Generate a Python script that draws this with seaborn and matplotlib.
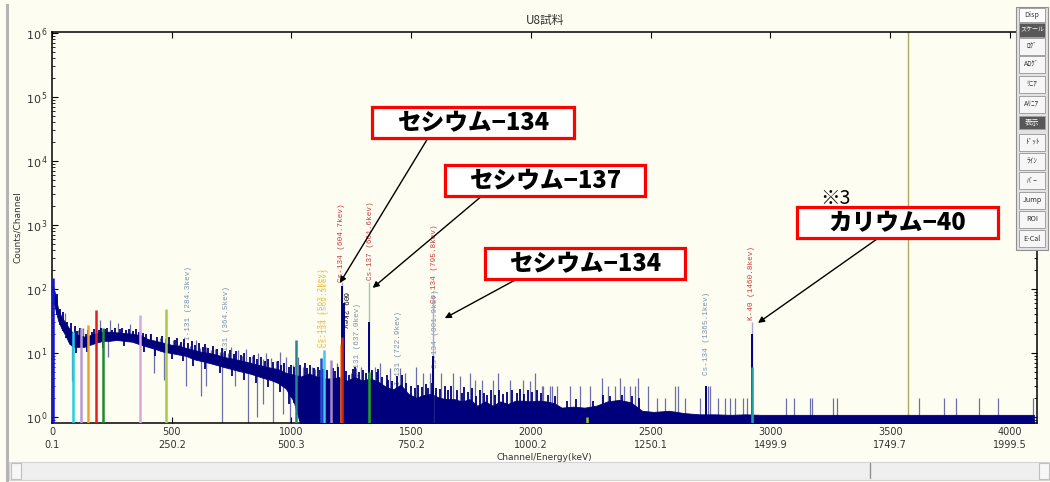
import numpy as np
import matplotlib
matplotlib.use("Agg")
import matplotlib.pyplot as plt
from matplotlib.patches import Rectangle
from matplotlib.ticker import LogLocator, NullFormatter
import seaborn as sns

W, H = 1050, 482

# spectrum body: the dense dark band (upper / lower edge in counts)
band_ch = [3, 8, 16, 26, 40, 56, 72, 90, 112, 135, 160, 185, 210, 240, 270, 300,
           335, 370, 400, 432, 464, 496, 528, 560, 592, 624, 656, 688, 720, 752,
           784, 816, 848, 880, 912, 944, 976, 1008, 1040, 1072, 1104, 1136, 1168,
           1200, 1232, 1264, 1296, 1328, 1360, 1392, 1424, 1456, 1488, 1520, 1552,
           1584, 1616, 1648, 1680, 1712, 1744, 1776, 1808, 1840, 1872, 1904, 1936,
           1968, 2000, 2032, 2064, 2096, 2128, 2176, 2224, 2272, 2320, 2368, 2416,
           2464, 2512, 2576, 2640, 2704, 2768, 2832, 2896, 2960, 3100, 3300, 3500,
           3700, 3900, 4100]
band_hi = [120, 100, 72, 48, 36, 30, 24, 20, 19, 18, 19, 20.5, 21.5, 21.5, 21, 20.5,
           20, 19, 16.5, 15.5, 14.5, 13.5, 13, 12, 11.2, 10.4, 10, 9.4, 8.6, 8.2,
           7.7, 7.2, 6.7, 6.3, 5.9, 5.6, 4.9, 4.6, 4.3, 4.8, 4.3, 4, 4,
           4.2, 3.7, 4.2, 3.7, 4, 3.6, 3, 2.7, 3.2, 2.3, 2, 2.2,
           2.3, 2, 1.9, 1.9, 1.75, 1.9, 1.5, 1.75, 1.5, 1.75, 1.6, 1.8,
           1.8, 1.75, 1.8, 1.75, 1.65, 1.4, 1.45, 1.4, 1.5, 1.75, 1.85, 1.7,
           1.25, 1.2, 1.25, 1.15, 1.1, 1.1, 1.08, 1.1, 1.08, 1.08, 1.08, 1.08,
           1.08, 1.08, 1.08]
band_lo_head = [60, 60, 45, 32, 24, 19, 14, 12.5, 12.5, 12.5, 13.5, 14.5, 15.5, 15.5, 16, 15.5,
                15, 13.5, 12.5, 11.5, 10.5, 10, 9.5, 9, 8, 7.5, 7, 6.5, 6, 5.6,
                5.2, 4.9, 4.5, 4.1, 3.8, 3.4, 2.8, 1.8]
# from ch ~1040 on the band reaches the floor of the plot
band_lo = band_lo_head + [0.7] * (len(band_ch) - len(band_lo_head))

# ragged upper edge of the band (dark single channels)
comb_ch = [20, 34, 47, 62, 78, 95, 104, 118, 140, 150, 168, 176, 195, 205, 222, 230,
           250, 262, 283, 292, 310, 320, 340, 350, 362, 380, 392, 415, 440, 458,
           478, 488, 515, 522, 538, 552, 566, 584, 596, 612, 630, 638, 652, 672,
           690, 708, 722, 742, 758, 770, 790, 800, 826, 842, 856, 872, 890, 904,
           922, 942, 958, 970, 990, 1000, 1012, 1035, 1058, 1066, 1078, 1092, 1110,
           1118, 1130, 1150, 1172, 1180, 1196, 1226, 1240, 1258, 1266, 1283, 1300,
           1312, 1336, 1355, 1362, 1380, 1398, 1405, 1420, 1440, 1462, 1480, 1500,
           1515, 1530, 1545, 1560, 1570, 1588, 1605, 1620, 1640, 1655, 1668, 1690,
           1710, 1722, 1738, 1755, 1772, 1788, 1802, 1818, 1832, 1850, 1868, 1885,
           1898, 1920, 1940, 1955, 1972, 1988, 2005, 2024, 2040, 2070, 2100, 2150,
           2190, 2260, 2300, 2330, 2380, 2420, 2450]
comb_cnt = [85, 48, 44, 30, 29, 26, 22, 25, 20, 23, 21.5, 24, 23, 25, 23.5, 25,
            23, 25, 23.5, 25, 22.5, 24, 22, 23.5, 21.5, 20.5, 19.5, 19.5, 18, 18.5,
            16.5, 18, 16, 17, 15, 16.5, 14.5, 15.5, 13.5, 14.5, 12.5, 14, 12, 13,
            11.5, 12, 10.6, 11.2, 9.8, 10.6, 9.4, 10.1, 8.7, 9.3, 8.1, 8.7, 7.6, 8.1,
            7.2, 7.6, 6.6, 7, 6, 6.4, 6, 6.4, 7, 5.8, 6.6, 5.8, 6,
            5.4, 5.6, 5.4, 5.8, 5.2, 6, 5.2, 4.6, 5.6, 6, 5, 5.4,
            4.8, 5.4, 5, 5.6, 4.2, 4.6, 3.8, 3.6, 4.4, 4.6, 3.4, 3,
            2.8, 3.2, 2.9, 3.3, 2.8, 3.4, 2.8, 2.7, 3, 2.6, 3, 2.6,
            2.4, 2.9, 2.5, 2.8, 2.1, 2.6, 2.4, 2.2, 2.6, 2.2, 2.6, 2.3,
            2.5, 2.6, 2.4, 2.7, 2.3, 2.6, 2.5, 2.6, 2.4, 2.2, 2.1, 1.8,
            1.9, 1.8, 2.2, 2.1, 2.2, 2.1, 2.0]

# ragged lower edge of the band (dark channels dipping down)
low_ch = [60, 100, 145, 215, 300, 385, 430, 500, 545, 590, 640, 700, 750, 800,
          850, 900, 950, 990]
low_cnt = [17, 10, 10.5, 12, 13, 10.5, 9, 8, 7.5, 6.2, 5.6, 4.8, 4.3, 3.8,
           3.4, 2.9, 2.5, 1.6]

# single channels sticking out above the band (faint)
spike_ch = [53, 109, 130, 199, 241, 276, 325, 408, 450, 470, 505, 530, 547, 575,
            603, 620, 645, 665, 680, 700, 714, 735, 749, 760, 777, 795, 812, 835,
            861, 880, 895, 915, 935, 951, 965, 979, 1005, 1028, 1049, 1084, 1097,
            1188, 1250, 1271, 1292, 1348, 1369, 1411, 1452, 1473, 1522, 1550, 1578,
            1626, 1675, 1703, 1745, 1766, 1794, 1842, 1863, 1912, 1967, 1995, 2016,
            2044, 2051, 2079, 2086, 2107, 2163, 2204, 2246, 2295, 2323, 2351, 2371,
            2389, 2413, 2434, 2448, 2490, 2525, 2559, 2601, 2615, 2643, 2705, 2740,
            2747, 2782, 2810, 2831, 2852, 2886, 2900, 3065, 3098, 3165, 3175, 3263,
            3277, 3622, 3725, 3775, 3872, 3949, 4095]
spike_cnt = [42, 23, 24.5, 33, 33, 29.5, 28, 20, 17, 15, 16, 14, 15, 13,
             16, 12, 12.6, 11, 11.6, 10.5, 10.4, 10, 12.6, 9.5, 11, 9, 11.6, 9,
             9.9, 8, 9.9, 8.5, 7.5, 10.4, 7, 8.8, 6.5, 8.8, 6, 6, 5.6,
             7, 4.8, 5.9, 6.1, 6.1, 7, 5.9, 5.9, 4.8, 6, 4.8, 4.8,
             4.8, 4.8, 4.3, 4.8, 3.8, 3.8, 3.8, 4.8, 3.8, 3.8, 3.6, 4.8,
             3, 3, 3, 3, 3, 3, 3, 3, 4, 3, 3, 4,
             3, 3, 3, 4, 3, 2, 2, 3, 3, 2, 2, 3,
             3, 2, 2, 2, 2, 2, 2, 2, 2, 2, 2, 2,
             2, 2, 2, 2, 2, 2, 2]

# channels dropping below the band (faint)
dip_ch = [85, 234, 425, 467, 560, 623, 645, 708, 763, 819, 854, 882, 924, 965, 993]
dip_cnt = [3.7, 8.8, 4.8, 3.8, 3, 2.1, 3, 0.7, 3, 0.7, 1, 1.6, 0.7, 1.1, 0.7]

# photo peaks (dark part) and their faint tops
peak_ch = [1210, 1218, 1323, 1592, 2731, 2922]
peak_cnt = [110, 60, 30, 9, 3, 20]
top_ch = [1210, 1323, 1592, 2922]
top_cnt = [128, 128, 75, 30]
top_col = ["#a9a9d2", "#a8c8a0", "#b0a6d6", "#a9a9d2"]

# ROI marker lines
roi_ch = [4, 89, 123, 151, 183, 211, 369, 474, 1017, 1123, 1135, 1163, 1205,
          1210, 1323, 2233, 2922]
roi_cnt = [150, 21.5, 24.5, 27, 47, 24.5, 39, 48, 16, 8.4, 11, 7.8, 14,
           18, 5, 1.0, 6]
roi_col = ["#1414e0", "#20d0e0", "#b898d8", "#f0a030", "#e02020", "#208a30",
           "#d8a8e0", "#a8c848", "#208888", "#2050d0", "#40c8f0", "#a888c8",
           "#f08010", "#e02010", "#20a020", "#a0c040", "#20a0a0"]

# nuclide labels
lab_ch = [569, 729, 1125, 1141, 1210, 1220, 1274, 1329, 1446, 1596, 1600, 2731, 2922]
lab_base = [16, 7.8, 12.4, 12.4, 129, 90, 4.2, 138, 3.16, 60, 5.8, 4.5, 33]
lab_text = ["I-131 (284.3kev)", "I-131 (364.5kev)", "Cs-134 (563.2kev)",
            "Cs-134 (569.3kev)", "Cs-134 (604.7kev)", "609.2kev",
            "I-131 (637.0kev)", "Cs-137 (661.6kev)", "I-131 (722.9kev)",
            "Cs-134 (795.8kev)", "Cs-134 (801.9kev)", "Cs-134 (1365.1kev)",
            "K-40 (1460.8kev)"]
lab_col = ["#7890a8", "#7890a8", "#e8b838", "#e8b838", "#c83c3c", "#111111",
           "#7890a8", "#c83c3c", "#7890a8", "#c83c3c", "#7890a8", "#7890a8",
           "#c83c3c"]

tick_ch = [0, 500, 1000, 1500, 2000, 2500, 3000, 3500, 4000]
tick_kev = ["0.1", "250.2", "500.3", "750.2", "1000.2", "1250.1", "1499.9",
            "1749.7", "1999.5"]

# callout boxes and where their arrows point
box_text = ["セシウム−134", "セシウム−137", "セシウム−134", "カリウム−40"]
arrow_ch = [1202, 1339, 1640, 2948]
arrow_cnt = [124, 104, 35, 29.5]

buttons = ["Disp", "スケール", "ﾛｸﾞ", "Aﾛｸﾞ", "ﾘﾆｱ", "Aﾘﾆｱ", "表示",
           "ﾄﾞｯﾄ", "ﾗｲﾝ", "ﾊﾞｰ", "Jump", "ROI", "E-Cal"]


def fx(x):
    return x / W


def fy(y):
    return 1 - y / H


sns.set_theme(style="ticks")
plt.rcParams['font.family'] = ['DejaVu Sans', 'Noto Sans CJK JP']
jp = ['Noto Sans CJK JP', 'DejaVu Sans']

bg = "#fdfdf1"
navy = "#00007c"
light = "#6e6eaa"

fig = plt.figure(figsize=(W / 100, H / 100), dpi=100, facecolor=bg)
ax = fig.add_axes([fx(52), fy(423), (1037 - 52) / W, (423 - 32) / H], facecolor=bg)
ax.set_yscale("log")
ax.set_xlim(0, 4113)
ax.set_ylim(10 ** -0.094, 10 ** 6.016)

# band edges under each single-channel line, so lines start/stop at the band
lo_at = lambda ch: np.interp(ch, band_ch, band_lo)

# spectrum
ax.vlines(dip_ch, dip_cnt, lo_at(dip_ch) * 1.05, color=light, lw=0.9, zorder=2)
ax.vlines(spike_ch, lo_at(spike_ch), spike_cnt, color=light, lw=0.9, zorder=2)
ax.fill_between(band_ch, band_lo, band_hi, color=navy, lw=0.6, zorder=3)
ax.vlines(comb_ch, lo_at(comb_ch), comb_cnt, color=navy, lw=1.3, zorder=3)
ax.vlines(low_ch, low_cnt, lo_at(low_ch) * 1.05, color=navy, lw=1.3, zorder=3)
ax.vlines(top_ch, 0.7, top_cnt, colors=top_col, lw=1.0, zorder=3.5)
ax.vlines(peak_ch, 0.7, peak_cnt, color=navy, lw=1.4, zorder=4)
ax.vlines(roi_ch, 0.7, roi_cnt, colors=roi_col, lw=1.8, zorder=5)
ax.axvline(3574, color="#b0a868", lw=1.0, zorder=1)

for c, b, t, col in zip(lab_ch, lab_base, lab_text, lab_col):
    if t == "609.2kev":
        ax.text(c, b, t, rotation=270, ha="center", va="top", fontsize=5.5,
                color=col, family="Liberation Mono", zorder=1)
    else:
        ax.text(c, b, t, rotation=90, ha="center", va="bottom", fontsize=5.5,
                color=col, family="Liberation Mono", zorder=1)

# axes cosmetics
ax.set_xticks(tick_ch)
ax.set_xticklabels([f"{c}\n{e}" for c, e in zip(tick_ch, tick_kev)],
                   fontsize=7, linespacing=1.3, color="#333333")
ax.set_yticks([10 ** k for k in range(7)])
ax.set_yticklabels([f"$\\mathregular{{10^{{\\,{k}}}}}$" for k in range(7)],
                   fontsize=8, color="#333333")
ax.yaxis.set_minor_locator(LogLocator(base=10, subs=np.arange(2, 10), numticks=20))
ax.yaxis.set_minor_formatter(NullFormatter())
ax.tick_params(which="both", direction="in", top=True, right=True, color="black")
ax.tick_params(which="major", length=4, width=0.8, pad=3)
ax.tick_params(which="minor", length=2.5, width=0.6)
ax.tick_params(axis="x", which="minor", bottom=False, top=False)
for s in ax.spines.values():
    s.set_color("black")
    s.set_linewidth(1.1)

ax.set_ylabel("Counts/Channel", fontsize=6.5, color="#333333")
ax.yaxis.set_label_coords(-0.03, 0.5)
ax.set_xlabel("Channel/Energy(keV)", fontsize=6.5, color="#333333")
ax.xaxis.set_label_coords(0.5, -0.078)

fig.text(fx(545), fy(20), "U8試料", fontsize=8.5, ha="center", va="center",
         color="#333333", family=jp)

# callouts
box_pos = [(372, 107), (445, 165), (485, 248), (797, 207)]
box_wid = [202, 200, 200, 201]
tails = [(428, 138), (483, 195), (517, 279), (877, 239)]
for (bx, by), bw, t in zip(box_pos, box_wid, box_text):
    fig.add_artist(Rectangle((fx(bx), fy(by + 31)), bw / W, 31 / H,
                             transform=fig.transFigure, fc="white", ec="#ff0000",
                             lw=2.3, zorder=5))
    fig.text(fx(bx + bw / 2), fy(by + 16), t, ha="center", va="center",
             fontsize=17, fontweight="heavy", family=jp, color="black", zorder=6)
for c, n, (tx, ty) in zip(arrow_ch, arrow_cnt, tails):
    ax.annotate("", xy=(c, n), xycoords="data", xytext=(fx(tx), fy(ty)),
                textcoords="figure fraction", annotation_clip=False,
                arrowprops=dict(arrowstyle="-|>", color="black", lw=1.0,
                                mutation_scale=9, shrinkA=0, shrinkB=0))
fig.text(fx(835), fy(199), "※3", ha="center", va="center", fontsize=14,
         family=jp, color="black")

# window chrome: left frame, scrollbar
fig.add_artist(Rectangle((fx(6), fy(482)), 3 / W, 478 / H, transform=fig.transFigure,
                         fc="#b4b4b4", ec="none", zorder=5))
fig.add_artist(Rectangle((fx(9), fy(480)), 1041 / W, 18 / H, transform=fig.transFigure,
                         fc="#efefef", ec="#d4d4d4", lw=0.8, zorder=5))
for bx in (11, 1039):
    fig.add_artist(Rectangle((fx(bx), fy(479)), 10 / W, 16 / H, transform=fig.transFigure,
                             fc="#f7f7f7", ec="#c0c0c0", lw=0.8, zorder=6))
fig.text(fx(16), fy(471), "◂", ha="center", va="center", fontsize=5, color="#444444")
fig.text(fx(1044), fy(471), "▸", ha="center", va="center", fontsize=5, color="#444444")
fig.add_artist(plt.Line2D([fx(870), fx(870)], [fy(463), fy(478)], transform=fig.transFigure,
                          color="#909090", lw=1, zorder=6))

# button panel on the right
fig.add_artist(Rectangle((fx(1016), fy(250)), 32 / W, 243 / H, transform=fig.transFigure,
                         fc="#e2e2e2", ec="#909090", lw=0.8, zorder=5))
centres = [15, 30, 46, 64, 84, 104, 123, 142, 161, 181, 200, 219, 239]
for name, cy in zip(buttons, centres):
    dark = name in ("スケール", "表示")
    h = 13 if dark or name == "Disp" else 17
    fc = "#585858" if dark else ("#ffffff" if name == "Disp" else "#f6f6f6")
    fig.add_artist(Rectangle((fx(1019), fy(cy + h / 2)), 26 / W, h / H,
                             transform=fig.transFigure, fc=fc, ec="#a0a0a0",
                             lw=0.7, zorder=6))
    fig.text(fx(1032), fy(cy), name, ha="center", va="center",
             fontsize=4.3 if name == "スケール" else 5.2,
             color="white" if dark else "#333333", family=jp, zorder=7)

fig.savefig("out.png", dpi=100, facecolor=bg)
